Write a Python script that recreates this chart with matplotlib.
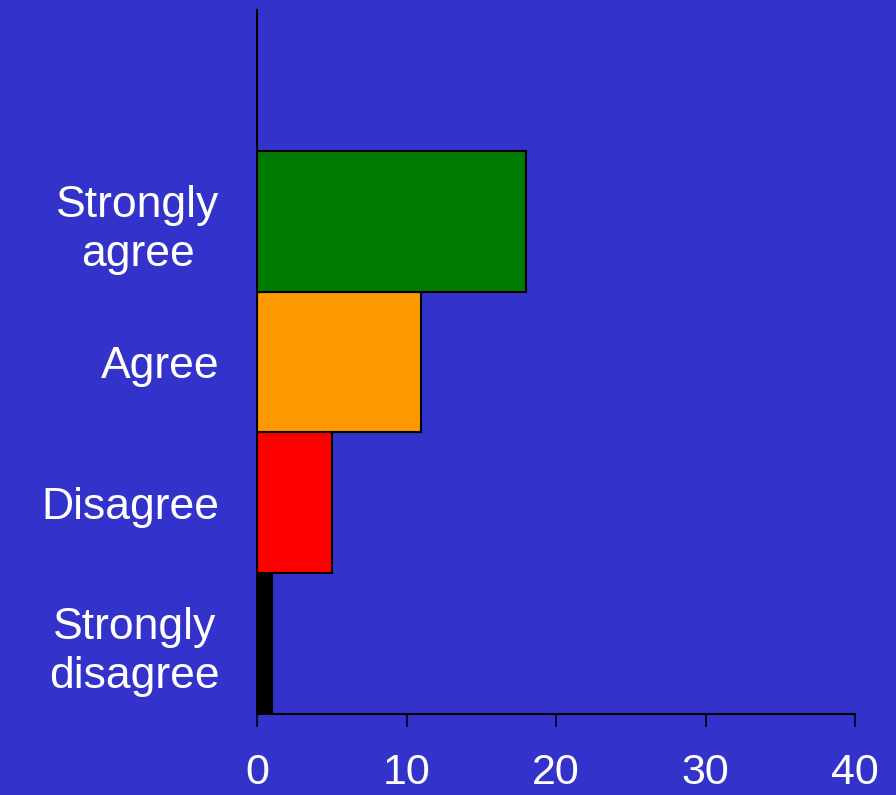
import matplotlib
matplotlib.use("Agg")
import matplotlib.pyplot as plt

categories = ["Strongly\ndisagree", "Disagree", "Agree", "Strongly\nagree"]
values = [1, 5, 11, 18]
colors = ["#000000", "#FF0000", "#FF9900", "#007A00"]
xticks = [0, 10, 20, 30, 40]

bg = "#3333CC"
fig = plt.figure(figsize=(8.96, 7.95), dpi=100, facecolor=bg)
ax = fig.add_axes([257/896, 1-714/795, (855-257)/896, (714-10)/795])
ax.set_facecolor(bg)
ax.barh(range(len(categories)), values, height=1.0, color=colors,
        edgecolor="black", linewidth=1.5)
ax.set_xlim(0, 40)
ax.set_ylim(-0.5, 4.5)
ax.set_xticks(xticks)
ax.set_xticklabels([str(t) for t in xticks])
ax.set_yticks(range(len(categories)))
ax.set_yticklabels(categories, multialignment="center", linespacing=1.25)
for s in ["top", "right"]:
    ax.spines[s].set_visible(False)
for s in ["left", "bottom"]:
    ax.spines[s].set_linewidth(1.5)
    ax.spines[s].set_color("black")
ax.tick_params(axis="x", direction="out", length=9, width=1.2, color="black",
               pad=19, labelsize=31, labelcolor="white")
ax.tick_params(axis="y", length=0, pad=27, labelsize=32, labelcolor="white")
for lbl in ax.get_xticklabels() + ax.get_yticklabels():
    lbl.set_fontfamily("Liberation Sans")
fig.savefig("out.png", dpi=100, facecolor=bg)
